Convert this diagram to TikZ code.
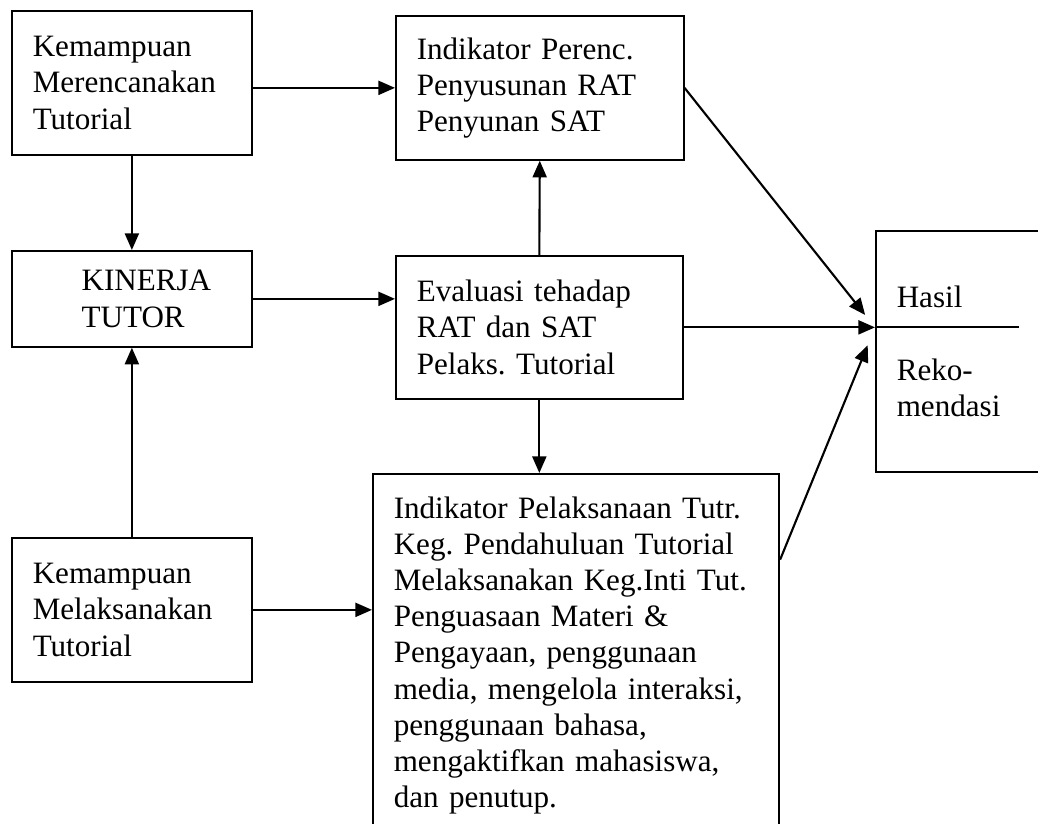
\documentclass[tikz,border=0pt]{standalone}
\usepackage{fontspec}
\setmainfont{Liberation Serif}
\usetikzlibrary{arrows.meta}
\frenchspacing

\begin{document}
\begin{tikzpicture}[x=0.02cm,y=-0.02cm,
    kotak/.style={draw=black,line width=1pt,anchor=north west,align=left,
        inner xsep=11.9pt,font=\fontsize{17.7}{20.6}\selectfont},
    panah/.style={line width=1.2pt,-{Triangle[length=9.5pt,width=8pt]}}]
    \useasboundingbox (0,0) rectangle (1038,824);

    % kolom kiri
    \node[kotak,text width=112.8pt,minimum height=2.88cm] (rencana) at (11,10)
        {Kemampuan\\Merencanakan\\Tutorial};
    \node[kotak,text width=112.8pt,minimum height=1.92cm] (kinerja) at (11,250)
        {\hspace*{27.8pt}KINERJA\\\hspace*{27.8pt}TUTOR};
    \node[kotak,text width=112.8pt,minimum height=2.88cm] (laksana) at (11,537)
        {Kemampuan\\Melaksanakan\\Tutorial};

    % kolom tengah
    \node[kotak,text width=140pt,minimum height=2.88cm] (indrencana) at (395,15)
        {Indikator Perenc.\\Penyusunan RAT\\Penyunan SAT};
    \node[kotak,text width=139.5pt,minimum height=2.86cm] (evaluasi) at (395,255)
        {Evaluasi tehadap\\RAT dan SAT\\Pelaks. Tutorial};
    \node[kotak,text width=207.5pt,minimum height=7.26cm] (indlaksana) at (372,473)
        {Indikator Pelaksanaan Tutr.\\Keg. Pendahuluan Tutorial\\
         Melaksanakan Keg.Inti Tut.\\Penguasaan Materi \&\\
         Pengayaan, penggunaan\\media, mengelola interaksi,\\
         penggunaan bahasa,\\mengaktifkan mahasiswa,\\dan penutup.};

    % kolom kanan
    \node[kotak,text width=89.6pt,minimum height=4.82cm] (hasil) at (875,230)
        {Hasil\\[20.6pt]Reko-\\mendasi};

    \coordinate (masuk) at (evaluasi.east -| hasil.west);
    \coordinate (keluar) at ([yshift=-49.3pt]indlaksana.north east);

    \draw[panah] (rencana.east |- indrencana.west) -- (indrencana.west);
    \draw[panah] (rencana.south) -- (kinerja.north);
    \draw[panah] (laksana.north) -- (kinerja.south);
    \draw[panah] (kinerja.east) -- (kinerja.east -| evaluasi.west);
    \draw[panah] (evaluasi.north) -- (indrencana.south);
    \draw[panah] (evaluasi.south) -- (evaluasi.south |- indlaksana.north);
    \draw[panah] (laksana.east) -- (laksana.east -| indlaksana.west);
    \draw[panah] (evaluasi.east) -- (masuk);
    \draw[line width=1pt] (masuk) -- ++(144,0);
    \draw[panah,shorten >=9pt] (indrencana.east) -- (masuk);
    \draw[panah,shorten >=11pt] (keluar) -- (masuk);
\end{tikzpicture}
\end{document}
